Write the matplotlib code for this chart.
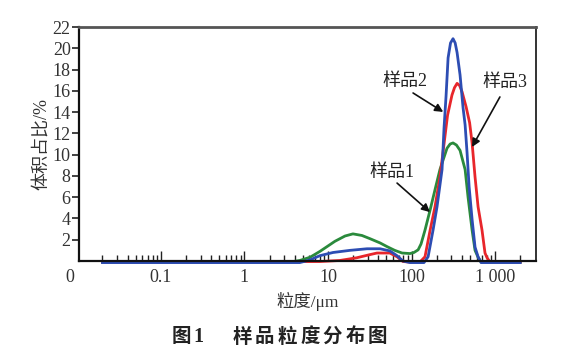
import numpy as np
import matplotlib.pyplot as plt
from matplotlib.ticker import FixedLocator, NullFormatter, FixedFormatter

plt.rcParams['font.family'] = ['Liberation Serif', 'Noto Sans CJK SC']

# particle size (um) and volume fraction (%)
size1 = [0.02, 3.5, 4.6, 6.1, 8.0, 12.1, 16, 19.9, 25.5, 31.8, 42, 51, 63, 77, 96,
         107, 120, 130, 145, 167, 191, 219, 266, 290, 314, 345, 381, 438, 475, 531, 576, 626, 680, 2000]
vol1 = [-0.1, -0.1, 0.05, 0.35, 0.9, 1.85, 2.35, 2.55, 2.4, 2.1, 1.7, 1.35, 1.0, 0.75, 0.7,
        0.8, 1.05, 1.6, 2.9, 4.8, 6.7, 8.6, 10.6, 11.0, 11.1, 10.9, 10.4, 8.6, 6.0, 2.9, 1.0, 0.35, -0.1, -0.1]

size2 = [0.02, 4.6, 6.1, 8.0, 11.5, 18.3, 29.3, 42, 55, 67, 79, 96, 141, 158, 181, 202,
         232, 245, 259, 274, 293, 314, 333, 351, 381, 414, 438, 462, 489, 531, 576, 626, 680, 2000]
vol2 = [-0.15, -0.15, 0.1, 0.5, 0.8, 1.0, 1.15, 1.15, 0.95, 0.5, 0.0, -0.15, -0.15, 0.4, 2.9, 5.1,
        8.6, 12.5, 15.5, 19.1, 20.5, 20.9, 20.5, 19.6, 17.5, 14.4, 12.8, 10.2, 7.0, 3.9, 1.3, 0.4, -0.15, -0.15]

size3 = [0.02, 8.0, 13.9, 22, 31.8, 38.6, 55, 67, 79, 96, 126, 145, 167, 191, 219, 238,
         270, 305, 327, 351, 376, 403, 450, 496, 531, 576, 626, 698, 758, 802, 871, 2000]
vol3 = [-0.1, -0.05, 0.05, 0.3, 0.6, 0.75, 0.75, 0.4, -0.05, -0.1, -0.1, 0.4, 2.9, 5.1, 7.9, 10.2,
        13.7, 15.6, 16.3, 16.7, 16.5, 15.9, 14.5, 13.0, 11.1, 7.9, 5.1, 2.9, 0.75, 0.3, -0.1, -0.1]

yticks = [2, 4, 6, 8, 10, 12, 14, 16, 18, 20, 22]
xmajor = [0.1, 1, 10, 100, 1000]
xmajor_labels = ['0.1', '1', '10', '100', '1 000']
title_head = ['图', '1']
title_body = list('样品粒度分布图')

fig = plt.figure(figsize=(5.78, 3.62), dpi=100)
ax = fig.add_axes([79 / 578, 1 - 261 / 362, 457 / 578, 234 / 362])

ax.plot(size1, vol1, color='#2a8a3c', lw=2.0, clip_on=False, solid_joinstyle='round')
ax.plot(size3, vol3, color='#e8262b', lw=2.0, clip_on=False, solid_joinstyle='round')
ax.plot(size2, vol2, color='#2d4db3', lw=2.0, clip_on=False, solid_joinstyle='round')

ax.set_xscale('log')
ax.set_xlim(10 ** -1.98, 10 ** 3.49)
ax.set_ylim(0, 22)

minor = []
for dec in [0.01, 0.1, 1, 10, 100, 1000]:
    for k in range(2, 10):
        v = dec * k
        if v <= 2000:
            minor.append(v)
ax.xaxis.set_major_locator(FixedLocator(xmajor))
ax.xaxis.set_major_formatter(FixedFormatter(xmajor_labels))
ax.xaxis.set_minor_locator(FixedLocator(minor))
ax.xaxis.set_minor_formatter(NullFormatter())
ax.tick_params(axis='x', which='major', direction='in', length=7, width=1.0,
               labelsize=13, pad=6, colors='#222222', labelcolor='#333333')
ax.tick_params(axis='x', which='minor', direction='in', length=4, width=1.0, colors='#222222')

ax.set_yticks(yticks)
ax.tick_params(axis='y', which='major', direction='out', length=5, width=1.2,
               labelsize=13, pad=1, colors='#222222', labelcolor='#333333')

for s in ['left', 'bottom']:
    ax.spines[s].set_linewidth(1.6)
    ax.spines[s].set_color('#111111')
ax.spines['top'].set_linewidth(2.0)
ax.spines['top'].set_color('#555555')
ax.spines['right'].set_linewidth(1.4)
ax.spines['right'].set_color('#333333')

ax.text(-0.02, -0.035, '0', transform=ax.transAxes, fontsize=13, color='#333333',
        ha='center', va='top')

ax.set_ylabel('体积占比/%', fontsize=13, color='#333333', labelpad=2)
ax.set_xlabel('粒度/μm', fontsize=12.5, color='#333333', labelpad=4)

# callouts: text, arrow tail, arrow head (axes fraction)
arrow = dict(arrowstyle='-|>', color='#111111', lw=1.2, mutation_scale=12,
             shrinkA=0, shrinkB=0)
callouts = [('样品2', (0.713, 0.769), (0.731, 0.718), (0.797, 0.637)),
            ('样品3', (0.932, 0.761), (0.921, 0.701), (0.860, 0.487)),
            ('样品1', (0.685, 0.380), (0.696, 0.333), (0.768, 0.209))]
for label, tpos, tail, head in callouts:
    ax.text(tpos[0], tpos[1], label, transform=ax.transAxes, fontsize=13,
            ha='center', va='center', color='#222222')
    ax.annotate('', xy=head, xytext=tail, xycoords='axes fraction',
                textcoords='axes fraction', arrowprops=arrow)

# caption, laid out character by character like the printed figure
ty = 1 - 337 / 362
fig.text(181 / 578, ty, title_head[0], fontsize=14, fontweight='bold',
         ha='center', va='center', color='#222222')
fig.text(198 / 578, ty, title_head[1], fontsize=14.5, fontweight='bold',
         ha='center', va='center', color='#222222')
for i, ch in enumerate(title_body):
    fig.text((242 + 22.6 * i) / 578, ty, ch, fontsize=14, fontweight='bold',
             ha='center', va='center', color='#222222')

fig.savefig('out.png', dpi=100)
